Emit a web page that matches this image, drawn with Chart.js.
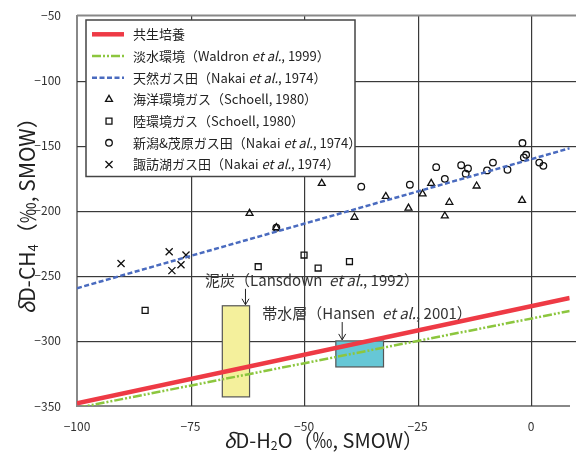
<!DOCTYPE html>
<html lang="ja">
<head>
<meta charset="utf-8">
<script src="https://cdn.jsdelivr.net/npm/chart.js@4.4.0/dist/chart.umd.min.js"></script>
<style>
  html, body { margin: 0; padding: 0; background: #fff; overflow: hidden; }
</style>
</head>
<body>
<canvas id="isoChart" width="576" height="453"></canvas>
<script>
// 軸の目盛り
const xTicks = [-100, -75, -50, -25, 0];
const yTicks = [-350, -300, -250, -200, -150, -100, -50];

// 回帰線 (δD-H2O, δD-CH4)
const cultureLine = [{ x: -100, y: -348 }, { x: 8.5, y: -267 }];
const freshwaterLine = [{ x: -100, y: -351.5 }, { x: 8.5, y: -277 }];
const gasFieldLine = [{ x: -100, y: -259.5 }, { x: 8.5, y: -152 }];

// 海洋環境ガス (Schoell, 1980)
const marineX = [-32.0, -27.0, -23.9, -22.0, -18.0, -19.0, -12.0, -2.0, -46.1, -62.0, -38.9, -56.1];
const marineY = [-189, -198, -187, -179, -193.5, -204, -181, -192, -179, -202, -205, -213];

// 陸環境ガス (Schoell, 1980)
const terrestrialX = [-85.0, -60.1, -50.0, -46.9, -40.0];
const terrestrialY = [-276.5, -243, -234, -244, -239];

// 新潟&茂原ガス田
const niigataX = [-26.7, -20.9, -19.0, -15.4, -13.9, -14.4, -8.4, -9.7, -5.2, -1.9, -1.1, -1.6, 1.8, 2.7, -37.4, -56.1];
const niigataY = [-180, -166.5, -175.5, -165, -167.5, -171.5, -163, -169, -168.5, -148, -157, -159, -163, -165.5, -181.5, -213];

// 諏訪湖ガス田
const suwaX = [-90.3, -79.7, -76.0, -77.1, -79.1];
const suwaY = [-240.5, -231.5, -234, -241.5, -246];

// 泥炭・帯水層の範囲
const peatRangeX = [-68, -62];
const peatRangeY = [-343, -273];
const aquiferRangeX = [-43, -32.5];
const aquiferRangeY = [-320, -300];

const FONT = '"Noto Sans CJK JP", "Noto Sans", sans-serif';

function toPoints(xs, ys) {
    return xs.map((x, i) => ({ x: x, y: ys[i] }));
}

function minus(v) {
    return v < 0 ? '\u2212' + Math.abs(v) : String(v);
}

// "et al." を斜体にする
function segsOf(text) {
    const parts = text.split('et al.');
    const segs = [];
    parts.forEach((p, i) => {
        if (p) segs.push({ t: p });
        if (i < parts.length - 1) segs.push({ t: 'et al.', it: true });
    });
    return segs;
}

function fontFor(seg, size) {
    const s = seg.sub ? size * 0.62 : size;
    return (seg.it ? 'italic ' : '') + s + 'px ' + FONT;
}

function richWidth(ctx, segs, size) {
    let w = 0;
    segs.forEach(seg => {
        ctx.font = fontFor(seg, size);
        w += ctx.measureText(seg.t).width;
    });
    return w;
}

function drawRich(ctx, segs, x, y, size, align) {
    ctx.textBaseline = 'middle';
    ctx.textAlign = 'left';
    let cx = align === 'center' ? x - richWidth(ctx, segs, size) / 2 : x;
    segs.forEach(seg => {
        ctx.font = fontFor(seg, size);
        ctx.fillText(seg.t, cx, y + (seg.sub ? size * 0.28 : 0));
        cx += ctx.measureText(seg.t).width;
    });
}

function drawArrow(ctx, x, y1, y2) {
    ctx.save();
    ctx.strokeStyle = '#222';
    ctx.lineWidth = 1;
    ctx.beginPath();
    ctx.moveTo(x, y1);
    ctx.lineTo(x, y2);
    ctx.moveTo(x - 3.5, y2 - 6);
    ctx.lineTo(x, y2);
    ctx.lineTo(x + 3.5, y2 - 6);
    ctx.stroke();
    ctx.restore();
}

// 目盛り線 (細い矩形で描く)
function drawGridLines(chart) {
    const ctx = chart.ctx;
    const xs = chart.scales.x, ys = chart.scales.y;
    const left = xs.getPixelForValue(xTicks[0]);
    const right = chart.width;
    const top = ys.getPixelForValue(yTicks[yTicks.length - 1]);
    const bottom = ys.getPixelForValue(yTicks[0]);
    ctx.save();
    ctx.fillStyle = '#3a3a3a';
    xTicks.slice(1).forEach(v => {
        const px = Math.round(xs.getPixelForValue(v));
        ctx.fillRect(px, top, 1.2, bottom - top);
    });
    yTicks.slice(1, -1).forEach(v => {
        const py = Math.round(ys.getPixelForValue(v));
        ctx.fillRect(left, py, right - left, 1.2);
    });
    ctx.fillStyle = '#888';
    ctx.fillRect(left, top - 1, right - left, 2);
    ctx.restore();
}

// 範囲の箱と目盛り線 (データ線の下に描く)
const rangeBoxes = {
    id: 'rangeBoxes',
    beforeDatasetsDraw(chart) {
        drawGridLines(chart);
        const ctx = chart.ctx;
        const xs = chart.scales.x, ys = chart.scales.y;
        const boxes = [
            [peatRangeX, peatRangeY, '#f4f09c'],
            [aquiferRangeX, aquiferRangeY, '#66c7d6']
        ];
        ctx.save();
        boxes.forEach(b => {
            const l = xs.getPixelForValue(b[0][0]);
            const r = xs.getPixelForValue(b[0][1]);
            const t = ys.getPixelForValue(b[1][1]);
            const btm = ys.getPixelForValue(b[1][0]);
            ctx.fillStyle = b[2];
            ctx.fillRect(l, t, r - l, btm - t);
            ctx.strokeStyle = '#555';
            ctx.lineWidth = 1.2;
            ctx.strokeRect(l, t, r - l, btm - t);
        });
        ctx.restore();
    }
};

// 注記・凡例・軸タイトル
const overlay = {
    id: 'overlay',
    afterDraw(chart) {
        const ctx = chart.ctx;
        const xs = chart.scales.x, ys = chart.scales.y;
        const area = chart.chartArea;
        ctx.save();

        // 注記
        ctx.fillStyle = '#333';
        drawRich(ctx, segsOf('泥炭（Lansdown  et al., 1992）'),
            xs.getPixelForValue(-71.8), ys.getPixelForValue(-253.2), 15, 'left');
        drawArrow(ctx, xs.getPixelForValue(-62.9), ys.getPixelForValue(-260), ys.getPixelForValue(peatRangeY[1]) - 1);
        drawRich(ctx, segsOf('帯水層（Hansen  et al., 2001）'),
            xs.getPixelForValue(-59.2), ys.getPixelForValue(-278.5), 15, 'left');
        drawArrow(ctx, xs.getPixelForValue(-41.6), ys.getPixelForValue(-285.5), ys.getPixelForValue(aquiferRangeY[1]) - 1);

        // 凡例
        const bx = 86, by = 20, bw = 269, bh = 156.5;
        ctx.fillStyle = '#fff';
        ctx.fillRect(bx, by, bw, bh);
        ctx.strokeStyle = '#444';
        ctx.lineWidth = 1.5;
        ctx.strokeRect(bx, by, bw, bh);
        chart.data.datasets.forEach((ds, i) => {
            const ry = 34.3 + i * 21.7;
            ctx.save();
            if (ds.showLine) {
                ctx.strokeStyle = ds.borderColor;
                ctx.lineWidth = ds.borderWidth;
                ctx.setLineDash(ds.borderDash || []);
                ctx.beginPath();
                ctx.moveTo(92, ry);
                ctx.lineTo(124, ry);
                ctx.stroke();
            } else {
                ctx.fillStyle = 'rgba(0,0,0,0)';
                ctx.strokeStyle = ds.borderColor;
                ctx.lineWidth = ds.borderWidth;
                ctx.setLineDash([]);
                Chart.helpers.drawPoint(ctx, {
                    pointStyle: ds.pointStyle,
                    radius: ds.pointRadius,
                    borderWidth: ds.borderWidth,
                    rotation: 0
                }, 109, ry);
            }
            ctx.restore();
            ctx.fillStyle = '#222';
            drawRich(ctx, segsOf(ds.label), 133, ry, 13, 'left');
        });

        // 軸タイトル
        ctx.fillStyle = '#222';
        drawRich(ctx, [{ t: 'δ', it: true }, { t: 'D-H' }, { t: '2', sub: true }, { t: 'O（‰, SMOW）' }],
            (area.left + area.right) / 2, 440, 20, 'center');
        ctx.translate(27, (area.top + area.bottom) / 2);
        ctx.rotate(-Math.PI / 2);
        drawRich(ctx, [{ t: 'δ', it: true }, { t: 'D-CH' }, { t: '4', sub: true }, { t: '（‰, SMOW）' }],
            0, 0, 21, 'center');
        ctx.restore();
    }
};

function markerSet(label, xs, ys, style, radius) {
    return {
        label: label,
        data: toPoints(xs, ys),
        pointStyle: style,
        pointRadius: radius,
        pointHoverRadius: radius,
        borderColor: '#111',
        backgroundColor: 'rgba(0,0,0,0)',
        borderWidth: 1.3,
        showLine: false
    };
}

function lineSet(label, data, color, width, dash) {
    return {
        label: label,
        data: data,
        showLine: true,
        borderColor: color,
        backgroundColor: color,
        borderWidth: width,
        borderDash: dash,
        pointRadius: 0,
        pointHoverRadius: 0,
        fill: false
    };
}

new Chart(document.getElementById('isoChart'), {
    type: 'scatter',
    data: {
        datasets: [
            lineSet('共生培養', cultureLine, '#ee3a45', 4.5, []),
            lineSet('淡水環境（Waldron et al., 1999）', freshwaterLine, '#8cc63e', 2.5, [9, 2, 2, 2, 2, 2]),
            lineSet('天然ガス田（Nakai et al., 1974）', gasFieldLine, '#4a6bbf', 2.5, [5, 2.5]),
            markerSet('海洋環境ガス（Schoell, 1980）', marineX, marineY, 'triangle', 4),
            markerSet('陸環境ガス（Schoell, 1980）', terrestrialX, terrestrialY, 'rect', 4.2),
            markerSet('新潟&茂原ガス田（Nakai et al., 1974）', niigataX, niigataY, 'circle', 3.3),
            markerSet('諏訪湖ガス田（Nakai et al., 1974）', suwaX, suwaY, 'crossRot', 5)
        ]
    },
    options: {
        responsive: false,
        animation: false,
        layout: { padding: { top: 15.5, right: 0, left: 0, bottom: 0 } },
        plugins: {
            legend: { display: false },
            tooltip: { enabled: false }
        },
        scales: {
            x: {
                type: 'linear',
                min: -100,
                max: 8.5,
                afterBuildTicks: function(scale) {
                    scale.ticks = xTicks.map(v => ({ value: v }));
                },
                afterFit: function(scale) {
                    scale.height = 47;
                },
                ticks: {
                    callback: minus,
                    font: { size: 12, family: FONT },
                    color: '#333',
                    padding: 5
                },
                grid: { display: false },
                border: { color: '#888', width: 2 }
            },
            y: {
                type: 'linear',
                min: -350,
                max: -50,
                afterBuildTicks: function(scale) {
                    scale.ticks = yTicks.map(v => ({ value: v }));
                },
                afterFit: function(scale) {
                    scale.width = 77;
                },
                ticks: {
                    callback: minus,
                    font: { size: 12, family: FONT },
                    color: '#333',
                    padding: 8
                },
                grid: { display: false },
                border: { color: '#888', width: 2 }
            }
        }
    },
    plugins: [rangeBoxes, overlay]
});
</script>
</body>
</html>
